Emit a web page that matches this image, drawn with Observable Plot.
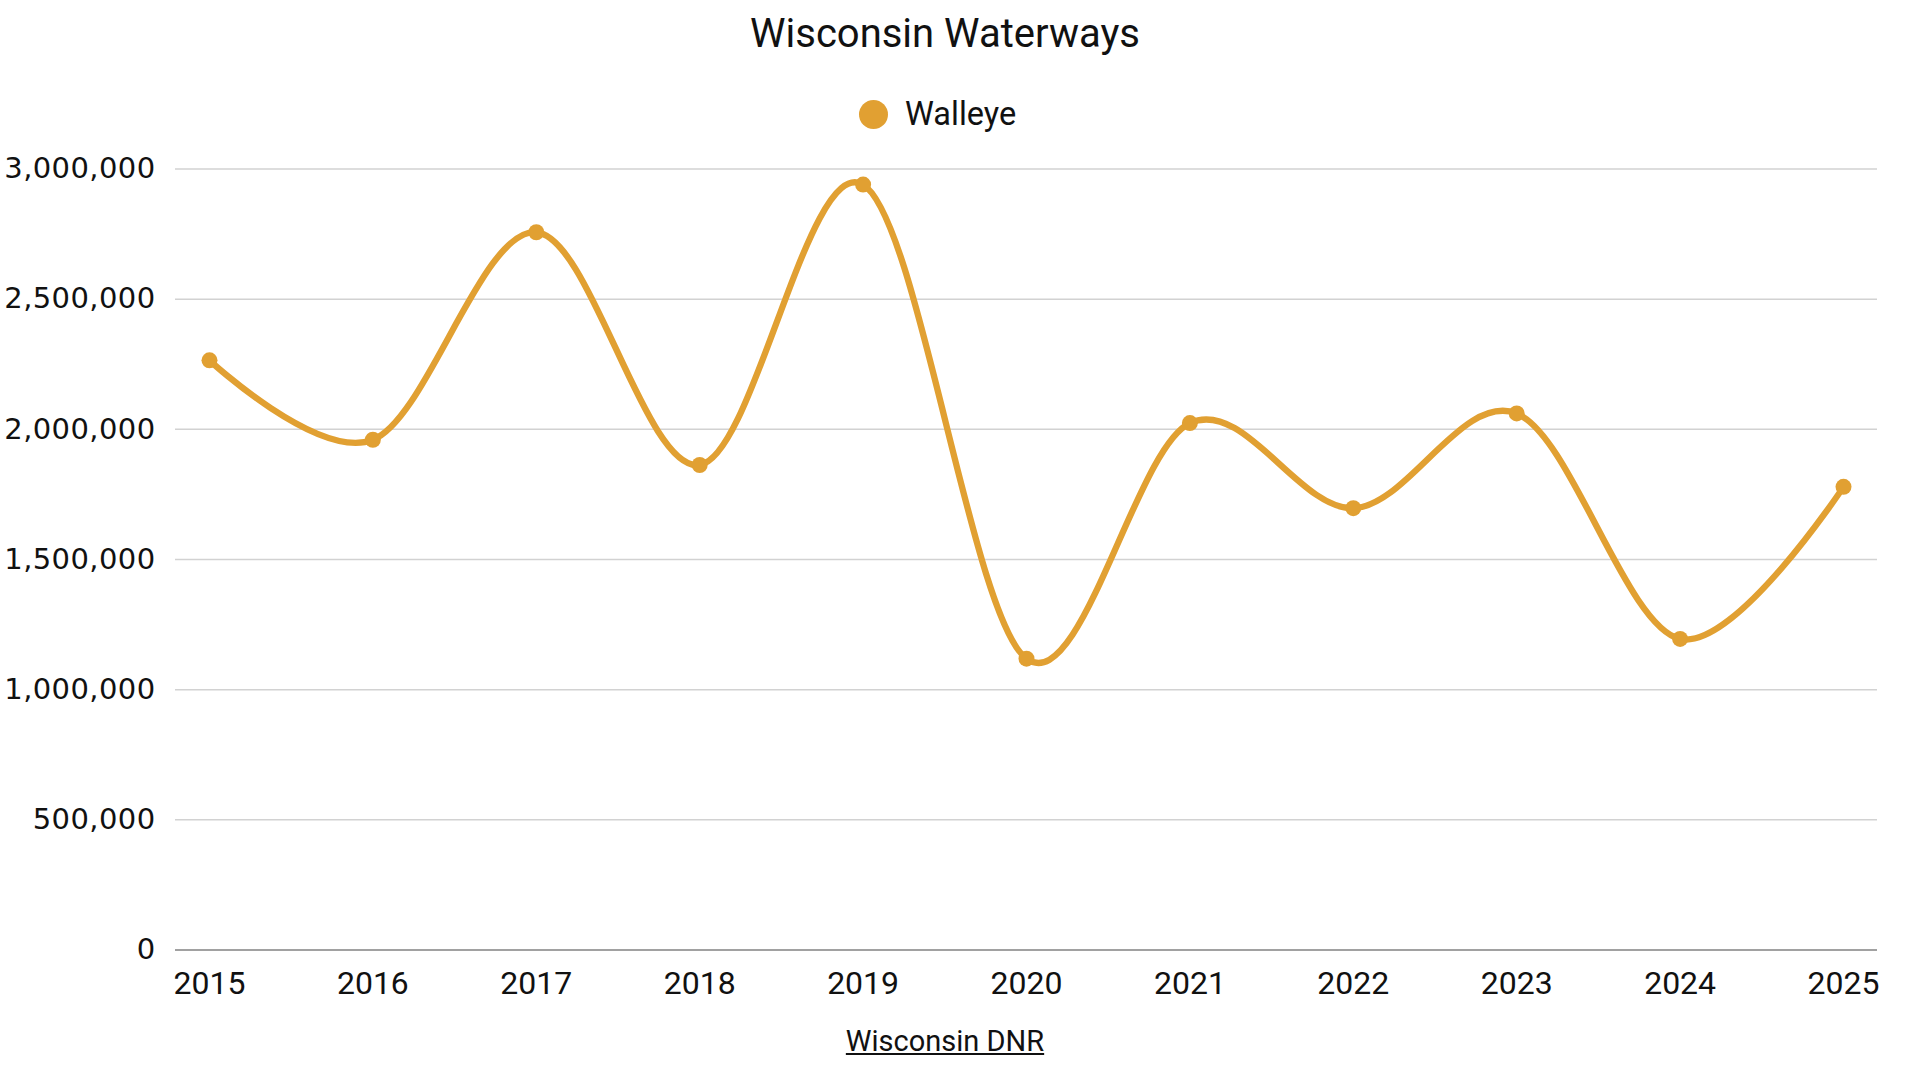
<!DOCTYPE html>
<html>
<head>
<meta charset="utf-8">
<script src="https://cdn.jsdelivr.net/npm/d3@7"></script>
<script src="https://cdn.jsdelivr.net/npm/@observablehq/plot@0.6"></script>
<style>
  html, body { margin: 0; padding: 0; background: #fff; }
  body { width: 1920px; height: 1080px; position: relative; overflow: hidden; font-family: Roboto, sans-serif; color: #111; }
  .title { position: absolute; left: 945px; top: 33px; transform: translate(-50%, -50%); font-size: 40px; white-space: nowrap; }
  .legend { position: absolute; left: 859px; top: 114px; transform: translateY(-50%); display: flex; align-items: center; font-size: 32.5px; white-space: nowrap; }
  .legend .swatch { width: 29px; height: 29px; border-radius: 50%; margin-right: 17px; }
  .caption { position: absolute; left: 945px; top: 1041px; transform: translate(-50%, -50%); font-size: 29px; text-decoration: underline; white-space: nowrap; }
  #chart { position: absolute; left: 0; top: 140px; }
</style>
</head>
<body>
<div class="title">Wisconsin Waterways</div>
<div class="legend"><span class="swatch"></span><span class="legend-label"></span></div>
<div id="chart"></div>
<div class="caption">Wisconsin DNR</div>
<script>
// Annual walleye counts
const years = [2015, 2016, 2017, 2018, 2019, 2020, 2021, 2022, 2023, 2024, 2025];
const walleye = [2265000, 1960000, 2757000, 1863000, 2940000, 1119000, 2024000, 1697000, 2061000, 1195000, 1779000];
const yTicks = [0, 500000, 1000000, 1500000, 2000000, 2500000, 3000000];
const seriesName = "Walleye";
const seriesColor = "#e1a032";

const rows = years.map((year, i) => ({year, value: walleye[i]}));

document.querySelector(".legend .swatch").style.background = seriesColor;
document.querySelector(".legend .legend-label").textContent = seriesName;

const chart = Plot.plot({
  width: 1920,
  height: 890,
  marginTop: 28.5,
  marginBottom: 80.5,
  marginLeft: 175,
  marginRight: 43,
  x: {domain: [2014.792, 2025.208]},
  y: {domain: [0, 3000000]},
  style: {fontFamily: "Roboto, sans-serif", color: "#111", background: "#fff"},
  marks: [
    Plot.gridY(yTicks, {stroke: "#d2d2d2", strokeOpacity: 1, strokeWidth: 1.5}),
    Plot.ruleY([0], {stroke: "#8c8c8c", strokeWidth: 1.6}),
    Plot.axisY(yTicks, {
      tickSize: 0, tickPadding: 20, label: null,
      tickFormat: d3.format(","),
      fontSize: 29, fontFamily: "'DejaVu Sans', sans-serif", fill: "#111"
    }),
    Plot.axisX(years, {
      tickSize: 0, tickPadding: 21, label: null,
      tickFormat: d => String(d),
      fontSize: 32, fontFamily: "Roboto, sans-serif", fill: "#111"
    }),
    Plot.line(rows, {x: "year", y: "value", curve: "cardinal", stroke: seriesColor, strokeWidth: 6.3}),
    Plot.dot(rows, {x: "year", y: "value", r: 8, fill: seriesColor})
  ]
});
// widen the y tick labels a little
chart.querySelectorAll("g[aria-label='y-axis tick label'] text").forEach(t => t.setAttribute("letter-spacing", "0.4"));
document.getElementById("chart").append(chart);
</script>
</body>
</html>
